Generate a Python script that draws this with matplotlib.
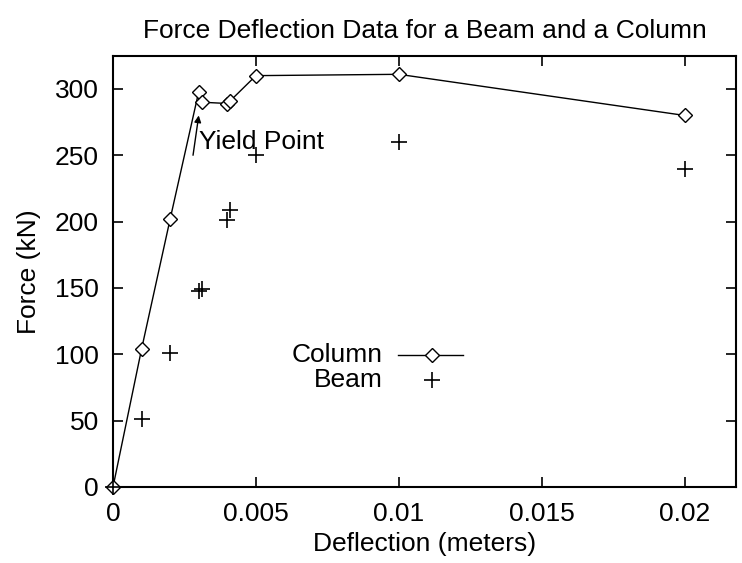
import matplotlib
matplotlib.use('Agg')
import matplotlib.pyplot as plt

plt.rcParams['font.family'] = ['Liberation Sans', 'DejaVu Sans']

# 처짐 (m) 과 하중 (kN)
deflection = [0.0, 0.001, 0.002, 0.003, 0.0031, 0.004, 0.0041, 0.005, 0.010, 0.020]
column_force = [0, 104, 202, 298, 290, 289, 291, 310, 311, 280]
beam_force = [0, 51, 101, 148, 149, 201, 209, 250, 260, 240]

x_ticks = [0, 0.005, 0.01, 0.015, 0.02]
x_tick_labels = ['0', '0.005', '0.01', '0.015', '0.02']
y_ticks = [0, 50, 100, 150, 200, 250, 300]

FS = 19

fig = plt.figure(figsize=(7.42, 5.63), dpi=100)
ax = fig.add_axes([0.1523, 0.135, 0.8397, 0.766])

ax.plot(deflection, column_force, color='black', lw=1.0, marker='D', ms=7.5,
        mfc='white', mec='black', mew=1.0, clip_on=False, zorder=3)
ax.plot(deflection, beam_force, ls='none', marker='+', ms=11, color='black',
        mew=1.2, clip_on=False, zorder=3)

# 항복점 표시
ax.annotate('', xy=(0.003, 280), xytext=(0.0028, 250),
            arrowprops=dict(arrowstyle='-|>', color='black', lw=1.0,
                            mutation_scale=10, shrinkA=0, shrinkB=0))
ax.text(0.003, 260, 'Yield Point', ha='left', va='center', fontsize=FS)

# 범례 (오른쪽 정렬, 직접 그림)
ax.text(0.433, 0.306, 'Column', transform=ax.transAxes, ha='right', va='center', fontsize=FS)
ax.text(0.433, 0.248, 'Beam', transform=ax.transAxes, ha='right', va='center', fontsize=FS)
ax.plot([0.457, 0.562], [0.306, 0.306], transform=ax.transAxes, color='black', lw=1.0)
ax.plot([0.512], [0.306], transform=ax.transAxes, marker='D', ms=7.5, mfc='white',
        mec='black', mew=1.0, color='black')
ax.plot([0.512], [0.248], transform=ax.transAxes, marker='+', ms=11, color='black',
        mew=1.2, ls='none')

ax.set_xlim(0, 0.0218)
ax.set_ylim(0, 325)
ax.set_xticks(x_ticks)
ax.set_xticklabels(x_tick_labels)
ax.set_yticks(y_ticks)
ax.tick_params(direction='in', length=7, width=1.2, top=True, right=True,
               labelsize=FS)
ax.tick_params(axis='x', pad=11)
ax.tick_params(axis='y', pad=10)
for sp in ax.spines.values():
    sp.set_linewidth(1.5)

ax.set_xlabel('Deflection (meters)', fontsize=FS, labelpad=4)
ax.set_ylabel('Force (kN)', fontsize=FS, labelpad=10)
ax.set_title('Force Deflection Data for a Beam and a Column', fontsize=FS, pad=13)

plt.savefig('out.png', dpi=100)
